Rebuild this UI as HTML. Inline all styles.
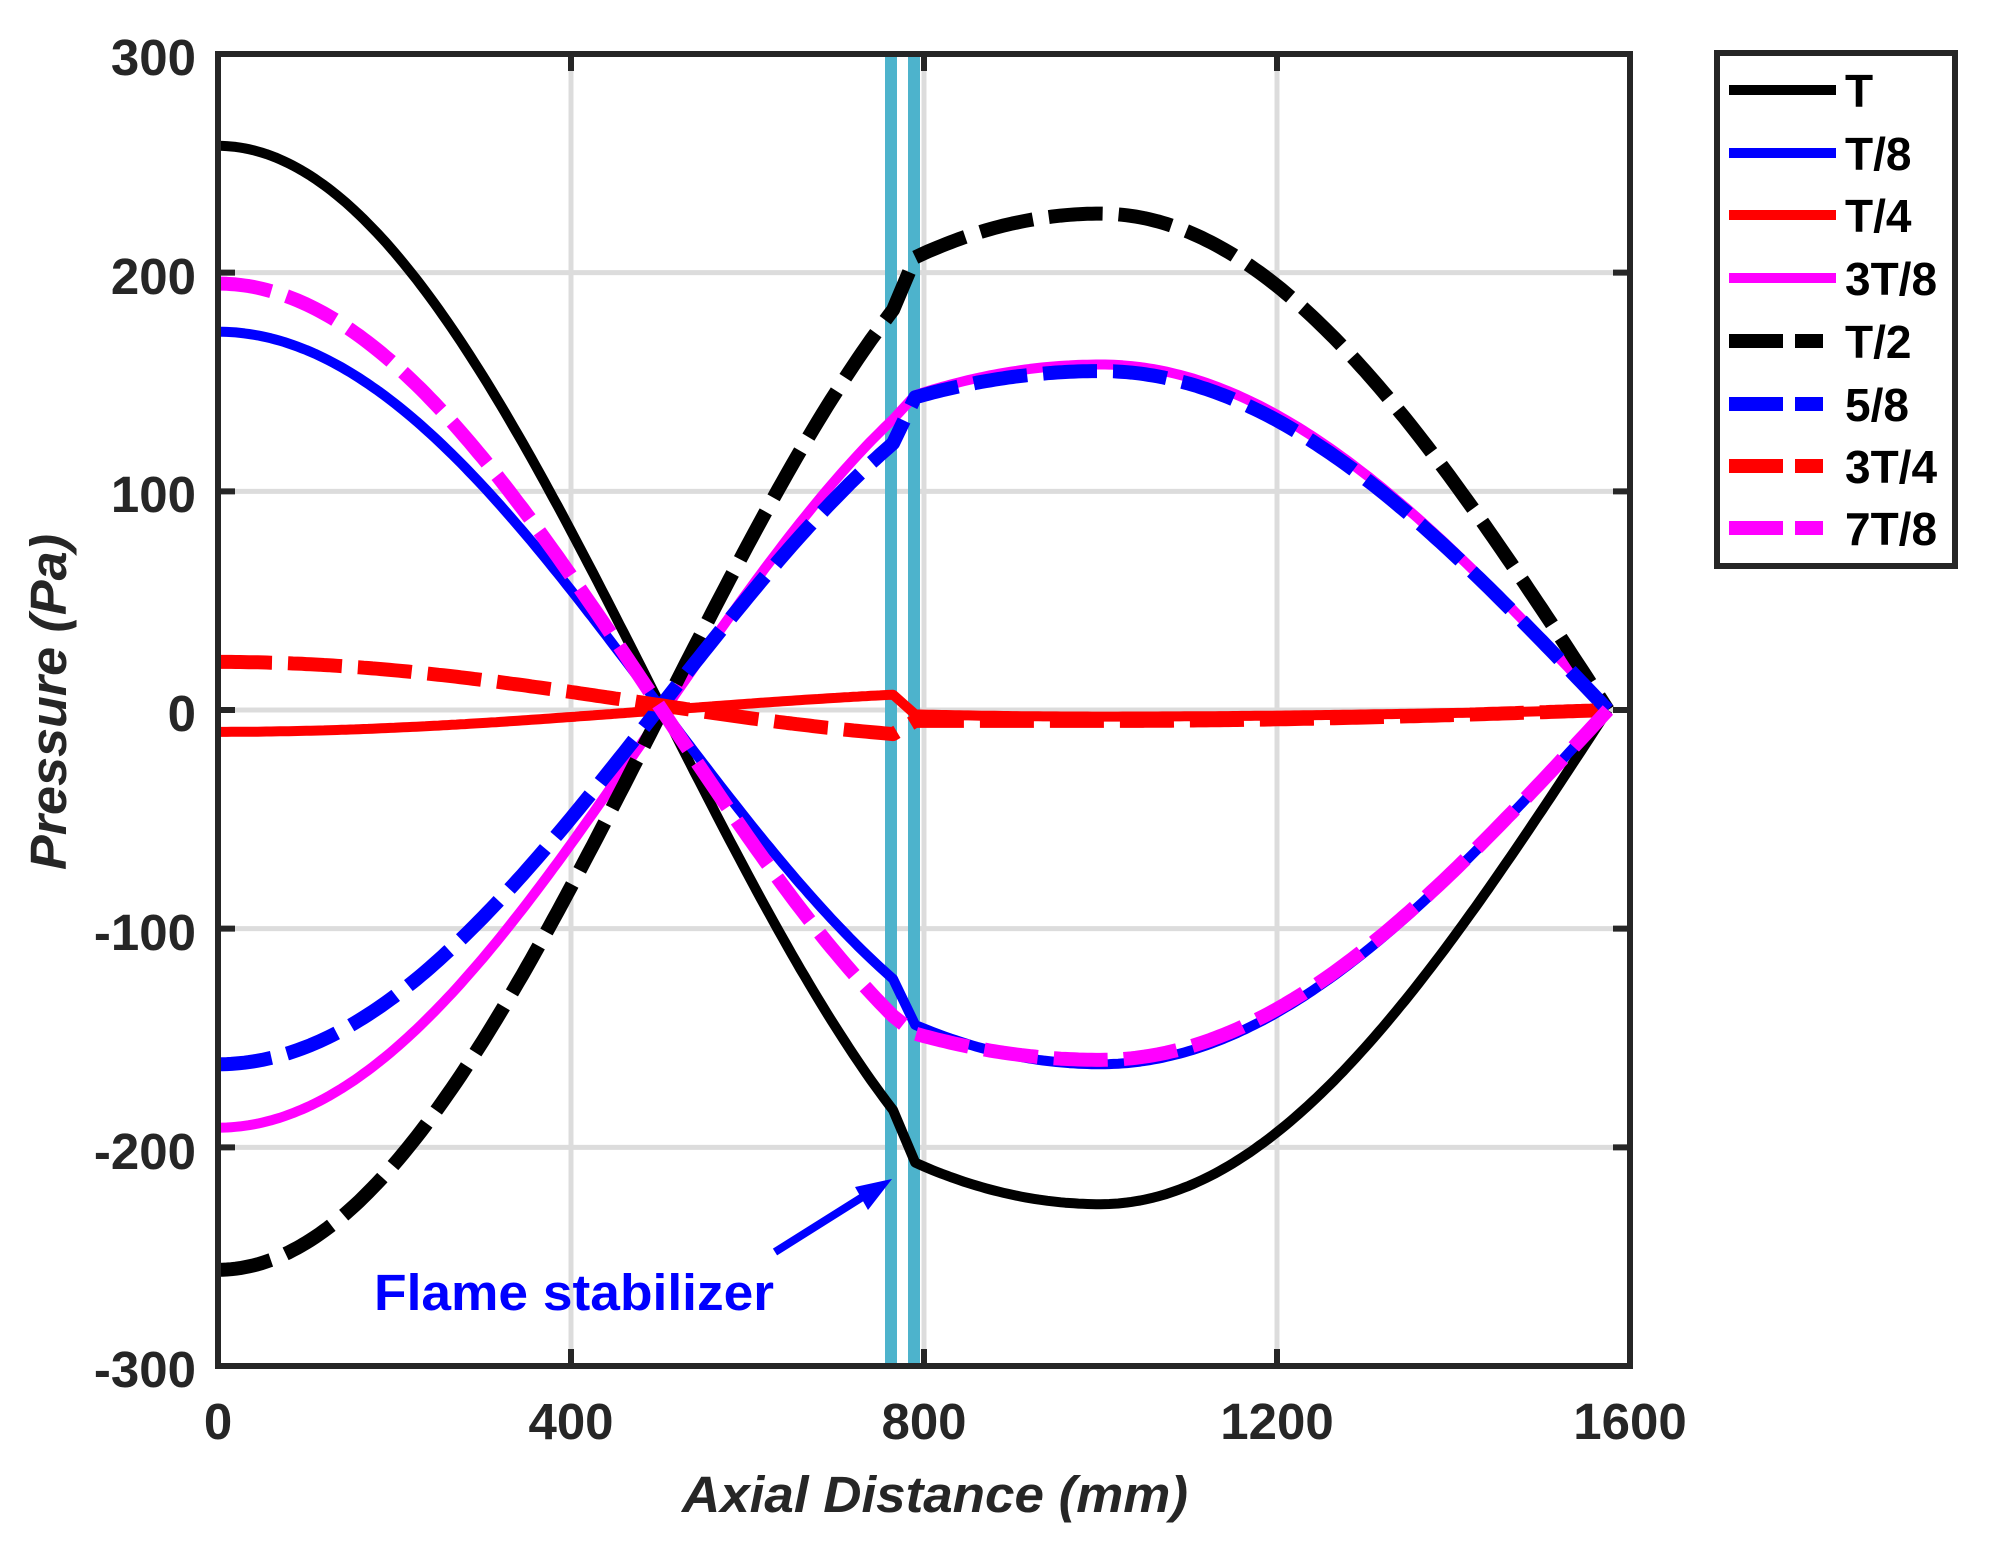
<!DOCTYPE html>
<html><head><meta charset="utf-8"><style>
html,body{margin:0;padding:0;background:#fff;}
svg{display:block;font-family:"Liberation Sans",Arial,sans-serif;}
</style></head><body>
<svg id="s" width="1989" height="1542" viewBox="0 0 1989 1542" xmlns="http://www.w3.org/2000/svg">
<rect x="0" y="0" width="1989" height="1542" fill="#fff"/>
<g id="grid" stroke="#dcdcdc" stroke-width="5"></g>
<line x1="891" y1="54" x2="891" y2="1366" stroke="#4db3cc" stroke-width="12"/>
<line x1="914" y1="54" x2="914" y2="1366" stroke="#4db3cc" stroke-width="12"/>
<g id="curves" fill="none" stroke-linejoin="round"></g>
<rect x="218" y="54" width="1412" height="1312" fill="none" stroke="#262626" stroke-width="6"/>
<g id="ticks" stroke="#262626" stroke-width="6"></g>
<g font-weight="bold" font-size="51" fill="#262626" text-anchor="end">
<text x="196" y="75">300</text><text x="196" y="294">200</text><text x="196" y="512">100</text>
<text x="196" y="731">0</text><text x="196" y="950">-100</text><text x="196" y="1169">-200</text><text x="196" y="1387">-300</text>
</g>
<g font-weight="bold" font-size="51" fill="#262626" text-anchor="middle">
<text x="218" y="1439">0</text><text x="571" y="1439">400</text><text x="924" y="1439">800</text>
<text x="1277" y="1439">1200</text><text x="1630" y="1439">1600</text>
</g>
<text x="935" y="1512" font-weight="bold" font-style="italic" font-size="51" fill="#262626" text-anchor="middle" textLength="506" lengthAdjust="spacingAndGlyphs">Axial Distance (mm)</text>
<text transform="translate(66,702) rotate(-90)" font-weight="bold" font-style="italic" font-size="51" fill="#262626" text-anchor="middle" textLength="336" lengthAdjust="spacingAndGlyphs">Pressure (Pa)</text>
<text x="374" y="1310" font-weight="bold" font-size="51" fill="#0000ff" textLength="400" lengthAdjust="spacingAndGlyphs">Flame stabilizer</text>
<line x1="775" y1="1252" x2="880" y2="1186" stroke="#0000ff" stroke-width="8"/>
<polygon points="892,1179 855,1187 868,1210" fill="#0000ff"/>
<rect x="1717" y="53" width="238" height="513" fill="#fff" stroke="#262626" stroke-width="6"/>
<g id="leg"></g>
</svg>
<script>
var NS="http://www.w3.org/2000/svg";
function px(x){return 218+x*0.8825;}
function py(v){return 710-v*2.1867;}
function el(p,t,a){var e=document.createElementNS(NS,t);for(var k in a)e.setAttribute(k,a[k]);p.appendChild(e);return e;}
var grid=document.getElementById('grid'),ticks=document.getElementById('ticks');
[400,800,1200].forEach(function(x){el(grid,'line',{x1:px(x),y1:54,x2:px(x),y2:1366});
 el(ticks,'line',{x1:px(x),y1:1366,x2:px(x),y2:1349});el(ticks,'line',{x1:px(x),y1:54,x2:px(x),y2:71});});
[200,100,0,-100,-200].forEach(function(v){el(grid,'line',{x1:218,y1:py(v),x2:1630,y2:py(v)});
 el(ticks,'line',{x1:218,y1:py(v),x2:235,y2:py(v)});el(ticks,'line',{x1:1630,y1:py(v),x2:1613,y2:py(v)});});
var C765=Math.cos(Math.PI*0.765);
function f(x,c){var a0=c[0],aL=c[1],aR=c[2],m=c[3],xm=1000;
 if(x<=765){return a0*Math.cos(Math.PI*x/1000)+(aL-C765*a0)*Math.pow(x/765,2);}
 if(x<=790){return aL+(aR-aL)*(x-765)/25;}
 if(x<=xm){return m+(aR-m)*Math.pow((xm-x)/(xm-790),2);}
 return m*Math.sin(Math.PI/2*(1575-x)/(1575-xm));}
var S=[
 [[258,-183,-207,-226],'#000',0],
 [[173,-123,-144,-162],'#0000ff',0],
 [[-10,7,-2,-3],'#ff0000',0],
 [[-191,133,144,158],'#ff00ff',0],
 [[-256,183,207,227],'#000',1],
 [[-162,122,143,155],'#0000ff',1],
 [[22,-11,-5,-5],'#ff0000',1],
 [[195,-140,-148,-160],'#ff00ff',1]];
var cg=document.getElementById('curves');
S.forEach(function(s){
 var all=[];for(var x=0;x<=765;x+=5)all.push(x);all.push(765);all.push(790);for(var x=795;x<=1575;x+=5)all.push(x);
 var d='';all.forEach(function(x){d+=(d?'L':'M')+px(x).toFixed(1)+','+py(f(x,s[0])).toFixed(1);});
 var a={d:d,stroke:s[1],'stroke-width':s[2]?14:10};
 if(s[2]){a['stroke-dasharray']='54 16';}
 el(cg,'path',a);});
var lg=document.getElementById('leg');
var names=['T','T/8','T/4','3T/8','T/2','5/8','3T/4','7T/8'];
var ys=[90,153,215,278,341,404,466,528];
S.forEach(function(s,i){var y=ys[i];
 if(s[2]){el(lg,'line',{x1:1729,y1:y,x2:1783,y2:y,stroke:s[1],'stroke-width':14});el(lg,'line',{x1:1795,y1:y,x2:1823,y2:y,stroke:s[1],'stroke-width':14});}
 else el(lg,'line',{x1:1729,y1:y,x2:1836,y2:y,stroke:s[1],'stroke-width':10});
 var t=el(lg,'text',{x:1845,y:y+17,'font-size':46,'font-weight':'bold',fill:'#000'});t.textContent=names[i];});
</script>
</body></html>
